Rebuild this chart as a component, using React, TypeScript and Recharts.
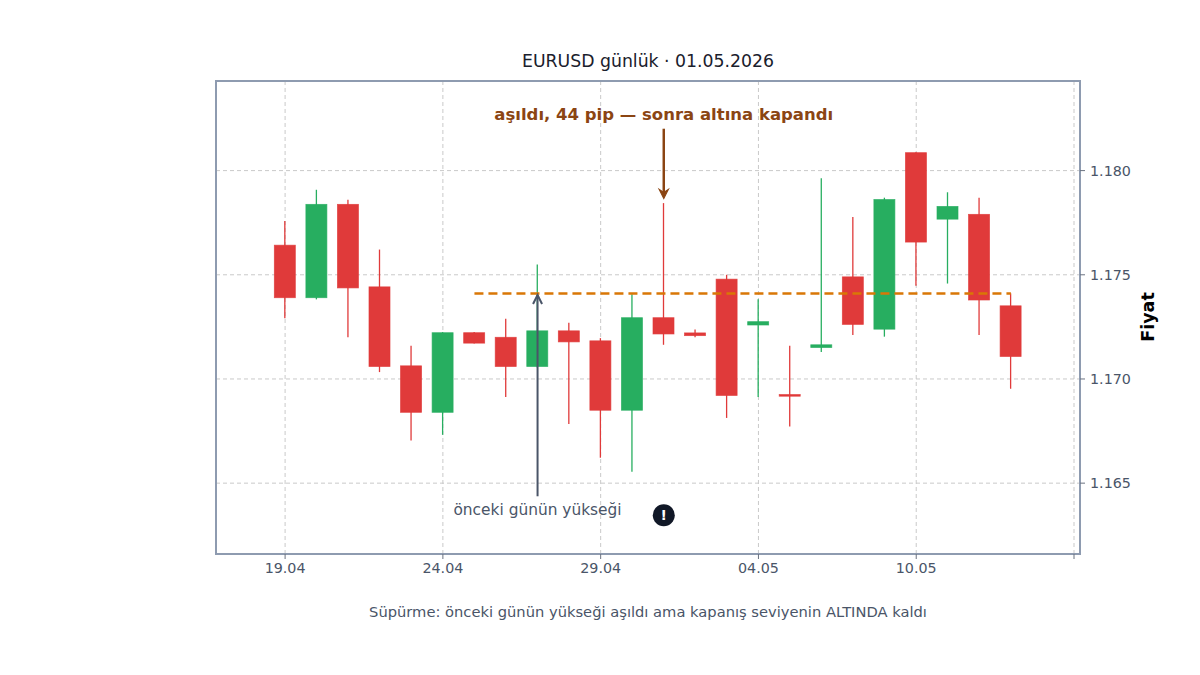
import React from 'react';
import {
  ComposedChart,
  Bar,
  XAxis,
  YAxis,
  CartesianGrid,
  ReferenceLine,
  ReferenceDot,
  ReferenceArea,
} from 'recharts';

// ---- data ----
const dates = [
  '19.04', '20.04', '21.04', '22.04', '23.04', '24.04', '25.04', '26.04',
  '27.04', '28.04', '29.04', '30.04', '01.05', '02.05', '03.05', '04.05',
  '05.05', '06.05', '07.05', '08.05', '10.05', '11.05', '12.05', '13.05',
];
const opens = [
  1.17642, 1.1739, 1.17838, 1.17442, 1.17063, 1.1684, 1.17222, 1.172,
  1.1706, 1.17231, 1.17183, 1.1685, 1.17294, 1.17221, 1.17479, 1.17259,
  1.16925, 1.17151, 1.1749, 1.17239, 1.18086, 1.17767, 1.1779, 1.17351,
];
const highs = [
  1.17758, 1.17908, 1.1786, 1.17621, 1.1716, 1.17225, 1.17226, 1.17289,
  1.17549, 1.1727, 1.17196, 1.17407, 1.17844, 1.17237, 1.175, 1.17383,
  1.1716, 1.17963, 1.17777, 1.1787, 1.18088, 1.17896, 1.1787, 1.17411,
];
const lows = [
  1.17291, 1.17382, 1.172, 1.17033, 1.16705, 1.16732, 1.1717, 1.16914,
  1.17055, 1.16784, 1.16622, 1.16555, 1.17164, 1.172, 1.16813, 1.16914,
  1.16772, 1.1713, 1.17211, 1.17203, 1.17447, 1.17458, 1.17211, 1.16953,
];
const closes = [
  1.1739, 1.17838, 1.17437, 1.1706, 1.1684, 1.17222, 1.17172, 1.1706,
  1.17231, 1.17178, 1.1685, 1.17294, 1.17216, 1.17208, 1.16921, 1.17275,
  1.1692, 1.17164, 1.17262, 1.17861, 1.17657, 1.17828, 1.17379, 1.17108,
];

const xTicks = [0, 5, 10, 15, 20, 25];
const yTicks = [1.165, 1.17, 1.175, 1.18];
const xDomain = [-2.19, 25.19];
const yDomain = [1.1616, 1.1843];

// previous day's high level and its span
const levelPrice = 1.1741;
const levelStart = 6;
const levelEnd = 23;

// sweep candle annotation
const sweepIndex = 12;
const sweepLabelPrice = 1.18268;
const sweepArrowFrom = 1.18201;
const sweepArrowTo = 1.17866;
const sweepLabel = 'aşıldı, 44 pip — sonra altına kapandı';

// previous-high annotation
const prevIndex = 8;
const prevArrowFrom = 1.16437;
const prevArrowTo = 1.17403;
const prevLabelPrice = 1.1637;
const prevLabel = 'önceki günün yükseği';

// warning marker
const markPrice = 1.16346;

const title = 'EURUSD günlük · 01.05.2026';
const subtitle = 'Süpürme: önceki günün yükseği aşıldı ama kapanış seviyenin ALTINDA kaldı';
const yLabel = 'Fiyat';

const candles = dates.map((d, i) => ({
  i,
  date: d,
  open: opens[i],
  high: highs[i],
  low: lows[i],
  close: closes[i],
}));

const RED = '#e03a3a';
const GREEN = '#27ae60';
const FONT = 'DejaVu Sans, sans-serif';
const BORDER = '#8e9bb0';

const Candle = (props: any) => {
  const { x, y, width, height, payload } = props;
  if (!payload) return null;
  const top = Math.min(y, y + height);
  const h = Math.abs(height);
  const range = payload.high - payload.low;
  const ratio = range > 0 ? h / range : 0;
  const py = (v: number) => top + (payload.high - v) * ratio;
  const up = payload.close >= payload.open;
  const color = up ? GREEN : RED;
  const bt = py(Math.max(payload.open, payload.close));
  const bb = py(Math.min(payload.open, payload.close));
  const bh = Math.max(bb - bt, 1.6);
  const cx = x + width / 2;
  return (
    <g>
      <line x1={cx} x2={cx} y1={top} y2={top + h} stroke={color} strokeWidth={1.3} />
      <rect
        x={x}
        y={bt}
        width={width}
        height={bh}
        fill={color}
        stroke={color}
        strokeOpacity={0.8}
        strokeWidth={0.8}
      />
    </g>
  );
};

const makeArrow = (color: string, sw: number, filled: boolean) => (p: any) => {
  const { x1, y1, x2, y2 } = p;
  const dir = y2 > y1 ? 1 : -1;
  const hl = 9;
  const hw = 4.5;
  if (filled) {
    return (
      <g>
        <line x1={x1} y1={y1} x2={x2} y2={y2 - dir * 3} stroke={color} strokeWidth={sw} />
        <path
          d={`M${x2 - hw},${y2 - dir * hl} L${x2},${y2} L${x2 + hw},${y2 - dir * hl} L${x2},${y2 - dir * (hl - 3)} Z`}
          fill={color}
          stroke={color}
          strokeWidth={1.2}
          strokeLinejoin="miter"
        />
      </g>
    );
  }
  return (
    <g>
      <line x1={x1} y1={y1} x2={x2} y2={y2} stroke={color} strokeWidth={sw} />
      <polyline
        points={`${x2 - hw},${y2 - dir * hl} ${x2},${y2} ${x2 + hw},${y2 - dir * hl}`}
        fill="none"
        stroke={color}
        strokeWidth={sw}
      />
    </g>
  );
};

const sweepArrow = makeArrow('#8b4513', 2.5, true);
const prevArrow = makeArrow('#4a5568', 2, false);

const SweepText = (p: any) => (
  <text
    x={p.cx}
    y={p.cy}
    textAnchor="middle"
    dominantBaseline="central"
    fontFamily={FONT}
    fontWeight="bold"
    fontSize={16.5}
    fill="#8b4513"
  >
    {sweepLabel}
  </text>
);

const PrevText = (p: any) => (
  <text
    x={p.cx}
    y={p.cy}
    textAnchor="middle"
    dominantBaseline="central"
    fontFamily={FONT}
    fontSize={15.4}
    fill="#4a5568"
  >
    {prevLabel}
  </text>
);

const Mark = (p: any) => (
  <g>
    <circle cx={p.cx} cy={p.cy} r={11} fill="#111827" />
    <text
      x={p.cx}
      y={p.cy}
      textAnchor="middle"
      dominantBaseline="central"
      fontFamily={FONT}
      fontWeight="bold"
      fontSize={14}
      fill="#ffffff"
    >
      !
    </text>
  </g>
);

export default function App() {
  return (
    <div
      style={{
        position: 'absolute',
        left: 0,
        top: 0,
        width: 1200,
        height: 675,
        background: '#ffffff',
        fontFamily: FONT,
      }}
    >
      <div
        style={{
          position: 'absolute',
          left: 216,
          width: 864,
          top: 51,
          lineHeight: '20px',
          fontSize: 17.3,
          textAlign: 'center',
          color: '#1a202c',
        }}
      >
        {title}
      </div>
      <ComposedChart
        width={1200}
        height={675}
        data={candles}
        margin={{ top: 81, right: 60, left: 216, bottom: 91 }}
      >
        <CartesianGrid stroke="#c9c9c9" strokeDasharray="4 3" strokeWidth={1} />
        <XAxis
          type="number"
          dataKey="i"
          domain={xDomain}
          allowDataOverflow
          ticks={xTicks}
          interval={0}
          tickFormatter={(v: number) => dates[v] ?? ''}
          height={30}
          axisLine={false}
          tickLine={{ stroke: '#6b7280' }}
          tickSize={5}
          tickMargin={4}
          tick={{ fill: '#4a5568', fontSize: 14.3, fontFamily: FONT }}
        />
        <YAxis
          orientation="right"
          type="number"
          domain={yDomain}
          allowDataOverflow
          ticks={yTicks}
          interval={0}
          tickFormatter={(v: number) => v.toFixed(3)}
          width={60}
          axisLine={false}
          tickLine={{ stroke: '#6b7280' }}
          tickSize={5}
          tickMargin={5}
          tick={{ fill: '#4a5568', fontSize: 14.3, fontFamily: FONT }}
        />
        <ReferenceArea
          x1={xDomain[0]}
          x2={xDomain[1]}
          y1={yDomain[0]}
          y2={yDomain[1]}
          fill="none"
          fillOpacity={0}
          stroke={BORDER}
          strokeWidth={2}
          ifOverflow="visible"
        />
        <Bar
          dataKey={(d: any) => [d.low, d.high]}
          barSize={21}
          shape={Candle}
          isAnimationActive={false}
        />
        <ReferenceLine
          segment={[
            { x: levelStart, y: levelPrice },
            { x: levelEnd, y: levelPrice },
          ]}
          stroke="#d97706"
          strokeWidth={2.5}
          strokeDasharray="9 5"
        />
        <ReferenceLine
          segment={[
            { x: prevIndex, y: prevArrowFrom },
            { x: prevIndex, y: prevArrowTo },
          ]}
          shape={prevArrow}
        />
        <ReferenceLine
          segment={[
            { x: sweepIndex, y: sweepArrowFrom },
            { x: sweepIndex, y: sweepArrowTo },
          ]}
          shape={sweepArrow}
        />
        <ReferenceDot x={sweepIndex} y={sweepLabelPrice} r={1} shape={SweepText} />
        <ReferenceDot x={prevIndex} y={prevLabelPrice} r={1} shape={PrevText} />
        <ReferenceDot x={sweepIndex} y={markPrice} r={11} shape={Mark} />
      </ComposedChart>
      <div
        style={{
          position: 'absolute',
          left: 216,
          width: 864,
          top: 603,
          lineHeight: '18px',
          fontSize: 14.7,
          textAlign: 'center',
          color: '#4a5568',
        }}
      >
        {subtitle}
      </div>
      <div
        style={{
          position: 'absolute',
          left: 1098,
          top: 307,
          width: 100,
          height: 20,
          lineHeight: '20px',
          textAlign: 'center',
          fontSize: 17.5,
          fontWeight: 'bold',
          color: '#000000',
          transform: 'rotate(-90deg)',
        }}
      >
        {yLabel}
      </div>
    </div>
  );
}
